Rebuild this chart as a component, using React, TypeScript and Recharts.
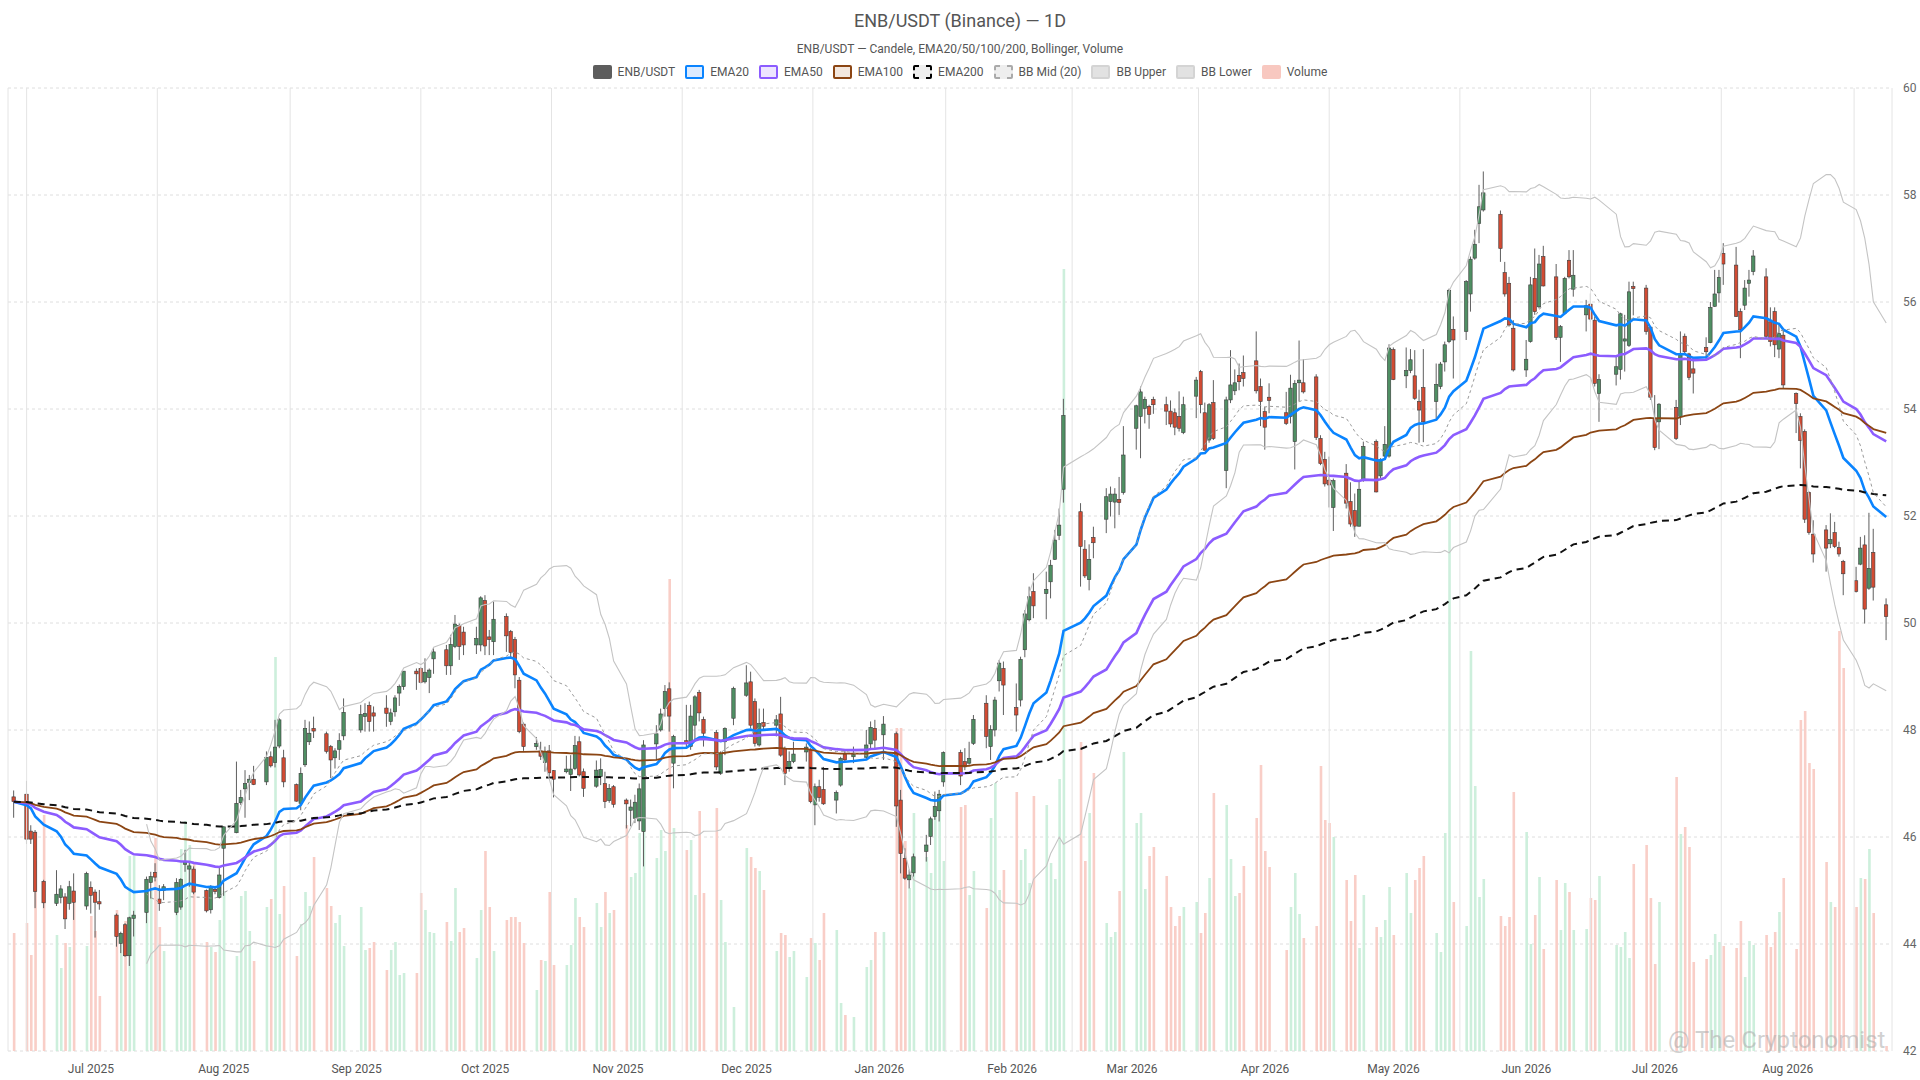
import {
  Bar,
  CartesianGrid,
  ComposedChart,
  Line,
  ReferenceLine,
  XAxis,
  YAxis,
} from "recharts";

// ---------------------------------------------------------------------------
// Data — daily bars, NYSE calendar (weekdays minus market holidays)
// ---------------------------------------------------------------------------

const FIRST_DAY = "2025-06-13";
const LAST_DAY = "2026-08-24";
const HOLIDAYS = [
  "2025-06-19", "2025-07-04", "2025-09-01", "2025-11-27", "2025-12-25",
  "2026-01-01", "2026-01-19", "2026-02-16", "2026-04-03", "2026-05-25",
  "2026-06-19", "2026-07-03",
];

const OPEN = [
  46.75,
  46.8, 46.11, 46.09, 45.17,
  44.76, 44.87, 44.88, 44.76, 44.99,
  44.71, 45.06, 44.97, 44.79,
  44.54, 44.01, 44.36, 43.78, 44.48,
  44.59, 45.15, 45.34, 44.84, 45.0,
  44.59, 44.69, 45.49, 45.4, 45.4,
  45.0, 44.64, 45.02, 44.87, 45.79,
  46.08, 46.64, 46.9, 47.02, 47.08,
  47.03, 47.5, 47.39, 47.7, 47.48,
  46.98, 46.63, 47.35, 47.78, 48.03,
  47.93, 47.69, 47.48, 47.64, 47.89,
  48.0, 48.25, 48.46, 48.32,
  48.41, 48.16, 48.34, 48.69, 48.81,
  49.1, 49.15, 48.9, 48.98, 49.33,
  49.5, 49.2, 49.56, 49.95, 49.83,
  49.59, 49.59, 50.42, 49.74, 49.65,
  50.12, 49.84, 49.69, 48.93, 48.11,
  47.69, 47.61, 47.39, 47.61, 47.24,
  47.22, 47.17, 47.28, 47.78, 47.22,
  46.95, 47.13, 47.0, 46.68, 46.94,
  46.69, 46.5, 46.35, 46.3, 46.1,
  47.74, 48.0, 48.4, 48.77, 47.38,
  47.8, 47.69, 48.09, 48.7, 48.2,
  47.95, 47.19, 47.78, 48.22,
  48.65, 48.9, 48.53, 47.72, 48.14,
  48.09, 48.3, 47.66, 47.28, 47.41,
  47.59, 47.63, 46.6, 46.94, 46.89,
  46.69, 46.97, 47.55, 47.5,
  47.49, 47.74, 48.03, 47.91,
  47.93, 46.69, 45.6, 45.2, 45.33,
  45.73, 46.01, 46.38, 46.49, 47.03,
  47.58, 47.41, 47.38, 47.75,
  48.5, 47.69, 48.0, 48.92, 49.15,
  48.42, 48.56, 49.5, 50.06, 50.59,
  50.55, 50.77, 51.19, 51.64, 52.5,
  52.08, 51.38, 50.81, 51.6,
  51.94, 52.27, 52.26, 52.31, 52.44,
  53.64, 53.86, 54.01, 54.05, 54.18,
  54.08, 53.96, 53.93, 53.86, 53.56,
  54.24, 54.7, 53.93, 53.42, 54.12,
  52.85, 54.17, 54.34, 54.63, 54.68,
  54.9, 54.42, 53.95, 54.22,
  53.93, 53.86, 53.39, 54.49, 54.49,
  54.6, 53.45, 53.06, 52.67, 52.16,
  52.8, 52.27, 52.1, 51.81, 52.67,
  53.39, 52.75, 53.12, 53.12, 55.11,
  54.62, 54.72, 54.62, 54.14, 54.4,
  54.14, 54.42, 54.88, 55.26, 55.49,
  55.45, 56.15, 56.82, 57.47, 57.72,
  57.64, 56.55, 56.35, 55.51,
  54.73, 55.26, 56.44, 55.91, 56.85,
  56.47, 55.34, 55.79, 56.78, 56.24,
  55.76, 55.96, 55.66, 54.29,
  54.65, 54.74, 55.27, 55.19, 56.29,
  56.26, 55.53, 53.83, 53.76,
  54.03, 53.86, 55.36, 55.03, 54.75,
  55.15, 55.24, 55.92, 56.17, 56.91,
  56.69, 55.82, 55.94, 56.35, 56.57,
  56.47, 55.63, 55.82, 55.12, 55.38,
  54.29, 53.86, 53.58, 52.44, 51.66,
  51.74, 51.48, 51.69, 51.41, 51.15,
  50.79, 51.1, 51.46, 50.65, 51.32,
  50.34,
];

const HIGH = [
  46.87,
  47.05, 46.22, 46.13, 45.2,
  45.38, 45.1, 44.95, 45.18, 45.32,
  45.35, 45.17, 45.02, 45.01,
  44.57, 44.23, 44.39, 44.51, 44.62,
  45.26, 45.35, 45.51, 45.1, 45.12,
  45.23, 45.23, 45.76, 45.54, 45.45,
  45.02, 45.1, 45.06, 45.45, 46.2,
  47.41, 46.88, 47.25, 47.16, 47.33,
  47.6, 47.6, 48.19, 48.22, 47.63,
  47.0, 47.3, 48.19, 48.16, 48.25,
  47.97, 47.72, 47.66, 47.94, 48.59,
  48.47, 48.5, 48.53, 48.44,
  48.65, 48.4, 48.65, 48.85, 49.1,
  49.15, 49.18, 49.34, 49.15, 49.53,
  49.59, 49.78, 50.15, 49.99, 49.93,
  49.93, 50.5, 50.52, 49.87, 50.4,
  50.18, 49.87, 49.74, 48.99, 48.14,
  47.87, 47.78, 47.69, 47.72, 47.25,
  47.52, 47.53, 47.89, 47.88, 47.28,
  47.43, 47.47, 47.22, 46.99, 46.97,
  46.72, 46.7, 46.79, 47.0, 47.81,
  48.09, 48.4, 48.84, 48.89, 47.91,
  48.47, 48.47, 48.65, 48.75, 48.25,
  48.0, 47.6, 48.05, 48.81,
  49.21, 49.09, 48.59, 48.4, 48.4,
  48.28, 48.62, 47.69, 47.6, 47.78,
  47.75, 47.66, 47.0, 47.07, 47.31,
  46.87, 47.5, 47.63, 47.69,
  48.0, 48.16, 48.19, 48.26,
  47.97, 46.88, 45.79, 45.39, 45.69,
  46.04, 46.38, 46.85, 46.88, 47.6,
  47.63, 47.66, 47.78, 48.28,
  48.65, 48.09, 48.62, 49.31, 49.28,
  48.87, 49.37, 50.24, 50.68, 50.93,
  50.96, 51.18, 51.74, 52.14, 54.19,
  52.24, 51.55, 51.47, 51.8,
  52.52, 52.55, 52.52, 52.73, 53.68,
  54.08, 54.42, 54.23, 54.08, 54.23,
  54.23, 54.16, 54.01, 54.33, 54.23,
  54.6, 54.73, 54.12, 54.11, 54.54,
  54.23, 55.1, 54.74, 54.85, 55.0,
  55.45, 54.57, 54.04, 54.48,
  54.32, 54.64, 54.54, 55.28, 54.93,
  54.65, 53.51, 53.2, 53.11, 52.7,
  52.97, 52.63, 52.42, 52.64, 53.39,
  53.43, 53.08, 53.68, 55.21, 55.15,
  55.15, 55.12, 55.1, 54.36, 55.12,
  54.85, 54.88, 55.26, 56.25, 55.73,
  56.41, 56.85, 57.35, 58.19, 58.44,
  57.71, 56.75, 56.47, 55.66,
  55.29, 56.47, 57.0, 56.88, 57.05,
  56.71, 55.57, 56.47, 56.97, 56.97,
  56.04, 56.16, 55.73, 54.65,
  54.98, 55.8, 55.76, 56.38, 56.38,
  56.32, 55.55, 54.26, 54.11,
  54.17, 55.45, 55.41, 55.05, 54.92,
  55.34, 56.0, 56.6, 56.6, 57.1,
  57.03, 55.88, 56.41, 56.6, 56.97,
  56.63, 55.9, 55.9, 55.6, 55.51,
  54.31, 53.92, 53.62, 52.46, 51.92,
  51.83, 52.05, 51.89, 51.52, 51.18,
  51.05, 51.61, 51.64, 52.06, 51.76,
  50.46,
];

const LOW = [
  46.36,
  45.87, 45.87, 44.67, 44.67,
  44.71, 44.76, 44.28, 44.64, 44.45,
  44.64, 44.57, 44.12, 44.64,
  43.95, 43.83, 43.76, 43.59, 44.14,
  44.39, 44.85, 45.17, 44.62, 44.82,
  44.54, 44.64, 45.35, 45.07, 44.93,
  44.59, 44.57, 44.93, 44.85, 44.9,
  46.07, 46.6, 46.36, 46.69, 46.97,
  46.97, 47.3, 47.3, 47.66, 46.93,
  46.66, 46.5, 47.31, 47.72, 47.85,
  47.56, 47.1, 47.28, 47.44, 47.81,
  47.95, 47.97, 47.97, 47.97,
  48.06, 48.09, 48.25, 48.45, 48.75,
  48.75, 48.87, 48.87, 48.69, 49.05,
  49.03, 49.03, 49.53, 49.31, 49.4,
  49.42, 49.47, 49.4, 49.4, 49.4,
  49.46, 49.34, 48.78, 47.94, 47.61,
  47.63, 47.44, 47.22, 47.13, 46.74,
  47.19, 46.86, 47.25, 47.13, 46.75,
  46.92, 46.97, 46.54, 46.64, 46.55,
  46.16, 46.2, 46.26, 46.13, 45.45,
  47.44, 47.97, 48.25, 47.97, 46.91,
  47.66, 47.63, 47.81, 48.16, 47.69,
  47.25, 47.16, 47.53, 48.09,
  48.62, 48.03, 47.69, 47.69, 48.0,
  47.88, 47.5, 46.97, 47.22, 47.38,
  47.41, 46.63, 46.22, 46.66, 46.6,
  46.44, 46.94, 47.41, 47.38,
  47.44, 47.63, 47.63, 47.44,
  46.19, 45.32, 45.2, 45.04, 45.26,
  45.54, 45.85, 46.32, 46.29, 46.94,
  46.97, 47.25, 47.35, 47.72,
  47.66, 47.44, 47.88, 48.72, 48.28,
  47.97, 48.44, 49.36, 50.03, 50.09,
  50.07, 50.46, 51.18, 51.55, 52.25,
  50.68, 50.84, 50.61, 51.21,
  51.68, 51.99, 51.77, 52.02, 52.4,
  53.24, 53.08, 53.73, 53.63, 53.91,
  53.7, 53.66, 53.51, 53.58, 53.53,
  53.83, 53.92, 53.22, 53.37, 53.42,
  52.52, 54.11, 54.26, 54.35, 54.42,
  54.29, 53.68, 53.24, 53.92,
  53.7, 53.73, 52.87, 54.14, 54.29,
  53.42, 52.95, 52.55, 52.16, 51.72,
  52.14, 51.8, 51.61, 51.8, 52.64,
  52.44, 52.71, 53.09, 53.09, 54.54,
  54.39, 54.67, 54.17, 53.37, 53.38,
  53.82, 54.37, 54.7, 55.23, 54.57,
  55.29, 55.82, 56.79, 57.1, 57.69,
  56.75, 56.1, 55.54, 54.7,
  54.6, 55.24, 55.76, 55.88, 56.29,
  55.29, 54.88, 55.76, 56.44, 56.1,
  55.45, 55.63, 54.42, 53.76,
  54.44, 54.55, 54.7, 55.16, 55.75,
  55.39, 54.17, 53.23, 53.25,
  53.42, 53.7, 55.04, 54.54, 54.29,
  54.92, 55.23, 55.91, 55.99, 56.32,
  55.72, 54.95, 55.85, 56.1, 56.5,
  55.32, 55.17, 54.97, 54.95, 54.39,
  53.55, 52.89, 51.87, 51.65, 51.13,
  50.96, 51.4, 51.4, 51.24, 50.52,
  50.57, 51.08, 49.99, 50.62, 50.42,
  49.68,
];

const CLOSE = [
  46.66,
  45.96, 45.96, 44.98, 44.77,
  44.93, 45.03, 44.47, 45.07, 44.78,
  45.32, 44.91, 44.78, 44.75,
  44.14, 44.2, 43.78, 44.49, 44.54,
  45.21, 45.26, 45.25, 44.76, 45.07,
  45.15, 45.21, 45.53, 45.46, 44.97,
  44.62, 45.07, 44.98, 45.29, 46.19,
  46.63, 46.74, 47.0, 47.08, 46.98,
  47.49, 47.33, 47.68, 48.19, 47.03,
  46.67, 47.19, 48.03, 47.94, 47.98,
  47.6, 47.44, 47.61, 47.8, 48.33,
  48.29, 48.31, 48.16, 48.26,
  48.31, 48.32, 48.6, 48.81, 49.1,
  49.05, 48.89, 49.08, 49.12, 49.46,
  49.2, 49.6, 49.98, 49.56, 49.59,
  49.71, 50.47, 49.57, 49.69, 50.07,
  49.76, 49.45, 49.03, 47.97, 47.69,
  47.75, 47.51, 47.6, 47.2, 47.08,
  47.27, 47.27, 47.71, 47.16, 46.91,
  47.25, 47.26, 46.66, 46.91, 46.61,
  46.62, 46.56, 46.65, 46.9, 47.72,
  47.93, 48.3, 48.72, 48.26, 47.88,
  47.75, 48.26, 48.62, 48.32, 47.94,
  47.31, 47.56, 48.03, 48.78,
  48.88, 48.09, 47.75, 48.12, 48.07,
  48.19, 47.53, 47.19, 47.41, 47.55,
  47.68, 46.66, 46.94, 46.74, 46.62,
  46.83, 47.47, 47.44, 47.54,
  47.72, 48.05, 47.81, 48.11,
  46.58, 45.69, 45.23, 45.29, 45.63,
  45.85, 46.34, 46.57, 46.8, 47.58,
  47.14, 47.31, 47.47, 48.2,
  47.88, 48.01, 48.56, 49.25, 48.84,
  48.28, 49.32, 50.17, 50.49, 50.32,
  50.63, 51.08, 51.55, 51.83, 53.88,
  51.43, 50.88, 51.19, 51.5,
  52.36, 52.41, 52.41, 52.25, 53.14,
  54.06, 54.32, 54.18, 53.9, 54.08,
  53.96, 53.72, 53.66, 53.64, 54.08,
  54.54, 54.08, 53.23, 54.08, 53.45,
  54.17, 54.45, 54.49, 54.51, 54.57,
  54.34, 54.14, 53.66, 54.16,
  53.73, 54.39, 54.48, 54.54, 54.32,
  53.47, 52.98, 52.6, 52.58, 52.66,
  52.24, 51.85, 51.81, 52.5, 53.3,
  52.45, 53.05, 53.34, 55.14, 54.55,
  54.72, 54.92, 54.2, 53.98, 53.76,
  54.46, 54.84, 55.2, 56.22, 55.29,
  56.38, 56.8, 57.08, 57.78, 58.04,
  57.0, 56.15, 55.57, 54.73,
  54.93, 56.32, 55.82, 56.71, 56.3,
  55.34, 55.54, 56.44, 56.47, 56.5,
  55.93, 55.68, 54.48, 54.55,
  54.79, 55.78, 55.31, 56.19, 56.25,
  55.45, 54.22, 53.28, 54.09,
  53.45, 55.01, 55.07, 54.59, 54.67,
  55.07, 55.9, 56.15, 56.46, 56.71,
  55.73, 55.48, 56.26, 56.41, 56.86,
  55.36, 55.26, 55.2, 55.41, 54.45,
  54.1, 53.41, 51.94, 51.69, 51.29,
  51.4, 51.56, 51.43, 51.29, 50.92,
  50.59, 51.4, 50.26, 51.02, 50.67,
  50.12,
];

// volume, millions of shares
const VOLUME = [
  1.18,
  1.28, 0.96, 1.9, 2.36,
  1.16, 0.83, 1.08, 1.04, 1.6,
  1.05, 1.35, 1.2, 0.55,
  1.41, 1.18, 1.3, 1.95, 1.95,
  1.4, 1.6, 2.13, 1.24, 1.0,
  1.4, 2.02, 2.3, 2.06, 1.87,
  1.09, 1.04, 0.99, 1.31, 1.6,
  0.95, 1.55, 1.6, 1.2, 0.9,
  1.44, 1.52, 3.94, 1.37, 1.65,
  0.95, 1.27, 1.59, 1.45, 1.94,
  1.63, 1.45, 1.28, 1.36, 1.05,
  1.44, 1.01, 1.03, 1.09,
  0.81, 1.01, 1.09, 0.76, 0.78,
  0.78, 1.58, 1.41, 1.19, 1.18,
  1.29, 1.1, 1.63, 1.19, 1.23,
  0.93, 1.41, 2.0, 1.44, 1.0,
  1.31, 1.34, 1.34, 1.29, 1.08,
  0.61, 0.91, 0.9, 1.59, 0.86,
  0.86, 1.06, 1.53, 1.34, 1.24,
  1.48, 1.24, 1.59, 1.38, 1.41,
  2.26, 1.74, 1.78, 2.18, 2.44,
  1.93, 2.21, 2.0, 4.72, 2.23,
  2.01, 2.11, 1.56, 2.4, 1.58,
  2.43, 1.51, 1.09, 0.44,
  2.03, 1.94, 1.83, 1.8, 1.61,
  1.0, 1.18, 1.16, 0.94, 1.0,
  0.74, 1.13, 1.08, 0.91, 1.38,
  1.21, 0.48, 0.36, 0.34,
  0.84, 0.91, 1.19, 1.19,
  3.23, 3.23, 2.1, 1.63, 2.38,
  1.94, 1.78, 2.38, 2.54, 1.9,
  2.44, 2.46, 1.56, 1.8,
  1.43, 2.33, 2.68, 1.61, 1.81,
  2.59, 1.91, 2.02, 1.68, 2.55,
  2.46, 1.88, 1.72, 2.72, 7.82,
  3.09, 1.9, 2.38, 2.78,
  1.28, 1.14, 1.19, 1.6, 2.99,
  2.28, 2.38, 1.62, 1.95, 2.04,
  1.75, 1.44, 1.25, 1.35, 1.44,
  1.49, 1.18, 1.38, 1.73, 2.58,
  2.46, 1.92, 1.55, 1.58, 1.85,
  2.33, 2.86, 2.0, 1.84,
  1.01, 1.44, 1.78, 1.37, 1.13,
  1.25, 2.85, 2.31, 2.28, 2.14,
  1.71, 1.3, 1.76, 1.03, 1.56,
  1.24, 1.14, 1.31, 1.64, 1.16,
  1.78, 1.38, 1.71, 1.83, 1.95,
  1.18, 0.99, 2.18, 5.37, 1.49,
  1.25, 4.0, 2.65, 1.54, 1.72,
  1.35, 1.25, 1.34, 2.59,
  2.19, 1.07, 1.36, 1.74, 1.02,
  1.71, 1.21, 1.68, 1.59, 1.21,
  1.22, 1.53, 1.51, 1.75,
  1.06, 1.04, 1.19, 0.93, 1.87,
  2.06, 1.53, 0.87, 1.49,
  2.74, 2.17, 2.24, 2.04, 0.89,
  0.92, 0.96, 1.17, 1.09, 1.05,
  1.03, 1.3, 0.74, 1.1, 1.06,
  1.16, 1.04, 1.19, 1.39, 1.73,
  1.02, 3.31, 3.4, 2.88, 2.82,
  1.89, 1.49, 1.44, 4.2, 3.83,
  1.44, 1.73, 1.72, 2.02, 1.38,
  0.05,
];

const PRICE_TICKS = [42, 44, 46, 48, 50, 52, 54, 56, 58, 60];
const MONTHS = ["Jan", "Feb", "Mar", "Apr", "May", "Jun", "Jul", "Aug", "Sep", "Oct", "Nov", "Dec"];

// ---------------------------------------------------------------------------
// Colours
// ---------------------------------------------------------------------------

const UP = "#4f8f63";
const DOWN = "#d24b33";
const VOL_UP = "#cdefdc";
const VOL_DOWN = "#f9cec7";
const EMA20_C = "#0a84ff";
const EMA50_C = "#8c5cff";
const EMA100_C = "#8b4513";
const FONT = "Roboto, 'Noto Sans', sans-serif";

// ---------------------------------------------------------------------------
// Helpers
// ---------------------------------------------------------------------------

const DAY = 86400000;
const toDay = (s: string) => Date.parse(s + "T00:00:00Z") / DAY;

function tradingDays(): number[] {
  const out: number[] = [];
  const hol = new Set(HOLIDAYS.map(toDay));
  for (let d = toDay(FIRST_DAY); d <= toDay(LAST_DAY); d++) {
    const wd = new Date(d * DAY).getUTCDay();
    if (wd === 0 || wd === 6 || hol.has(d)) continue;
    out.push(d);
  }
  return out;
}

function ema(src: number[], span: number): number[] {
  const a = 2 / (span + 1);
  const out: number[] = [];
  src.forEach((v, i) => out.push(i === 0 ? v : a * v + (1 - a) * out[i - 1]));
  return out;
}

function bollinger(src: number[], n: number, k: number) {
  return src.map((_, i) => {
    if (i < n - 1) return { mid: null, up: null, lo: null };
    const w = src.slice(i - n + 1, i + 1);
    const m = w.reduce((s, v) => s + v, 0) / n;
    const sd = Math.sqrt(w.reduce((s, v) => s + (v - m) ** 2, 0) / n);
    return { mid: m, up: m + k * sd, lo: m - k * sd };
  });
}

const DAYS = tradingDays();
const N = Math.min(DAYS.length, OPEN.length, HIGH.length, LOW.length, CLOSE.length, VOLUME.length);
const E20 = ema(CLOSE, 20);
const E50 = ema(CLOSE, 50);
const E100 = ema(CLOSE, 100);
const E200 = ema(CLOSE, 200);
const BB = bollinger(CLOSE, 20, 2);

const rows = Array.from({ length: N }, (_, i) => ({
  t: DAYS[i],
  o: OPEN[i],
  h: HIGH[i],
  l: LOW[i],
  c: CLOSE[i],
  v: VOLUME[i],
  up: CLOSE[i] >= OPEN[i],
  ema20: E20[i],
  ema50: E50[i],
  ema100: E100[i],
  ema200: E200[i],
  bbMid: BB[i].mid,
  bbUp: BB[i].up,
  bbLo: BB[i].lo,
}));

const X_DOMAIN = [DAYS[0] - 1.35, DAYS[N - 1] + 1.35];

// month starts (labels) and month mid-points (vertical split lines)
const monthTicks: number[] = [];
const monthMids: number[] = [];
for (let y = 2025, m = 5; y < 2026 || m <= 8; ) {
  const start = Date.UTC(y, m, 1) / DAY;
  const next = Date.UTC(m === 11 ? y + 1 : y, (m + 1) % 12, 1) / DAY;
  if (start >= X_DOMAIN[0] && start <= X_DOMAIN[1]) monthTicks.push(start);
  const mid = (start + next) / 2;
  if (mid >= X_DOMAIN[0] && mid <= X_DOMAIN[1]) monthMids.push(mid);
  m++;
  if (m === 12) { m = 0; y++; }
}

const fmtMonth = (t: number) => {
  const d = new Date(t * DAY);
  return `${MONTHS[d.getUTCMonth()]} ${d.getUTCFullYear()}`;
};

// ---------------------------------------------------------------------------
// Shapes
// ---------------------------------------------------------------------------

function Candle(props: any) {
  const { x, y, width, height, payload } = props;
  if (!payload || x == null || y == null) return null;
  const { o, h, l, c } = payload;
  const cx = x + width / 2;
  const k = h > l ? height / (h - l) : 0;
  const yO = y + (h - o) * k;
  const yC = y + (h - c) * k;
  const top = Math.min(yO, yC);
  const bh = Math.max(Math.abs(yC - yO), 1);
  const bw = 3.4;
  return (
    <g>
      <line x1={cx} x2={cx} y1={y} y2={y + height} stroke="#5f5f5f" strokeWidth={1} />
      <rect
        x={cx - bw / 2}
        y={top}
        width={bw}
        height={bh}
        fill={c >= o ? UP : DOWN}
        stroke="#3c3c3c"
        strokeWidth={0.6}
      />
    </g>
  );
}

function VolBar(props: any) {
  const { x, y, width, height, payload } = props;
  if (!payload || !height) return null;
  const bw = 2.6;
  return (
    <rect
      x={x + width / 2 - bw / 2}
      y={y}
      width={bw}
      height={height}
      fill={payload.up ? VOL_UP : VOL_DOWN}
    />
  );
}

// ---------------------------------------------------------------------------
// Legend
// ---------------------------------------------------------------------------

const LEGEND = [
  { name: "ENB/USDT", fill: "#5d5d5d", stroke: "#5d5d5d", dash: false },
  { name: "EMA20", fill: "#dcebff", stroke: EMA20_C, dash: false },
  { name: "EMA50", fill: "#ede5ff", stroke: EMA50_C, dash: false },
  { name: "EMA100", fill: "#f3e7de", stroke: EMA100_C, dash: false },
  { name: "EMA200", fill: "#eeeeee", stroke: "#000", dash: true },
  { name: "BB Mid (20)", fill: "#eeeeee", stroke: "#aaa", dash: true },
  { name: "BB Upper", fill: "#e2e2e2", stroke: "#d4d4d4", dash: false },
  { name: "BB Lower", fill: "#e2e2e2", stroke: "#d4d4d4", dash: false },
  { name: "Volume", fill: "#f8c8c0", stroke: "#f8c8c0", dash: false },
];

function LegendRow() {
  return (
    <div
      style={{
        position: "absolute",
        top: 65,
        left: 0,
        width: 1920,
        display: "flex",
        justifyContent: "center",
        gap: 10,
        fontSize: 12,
        color: "#555",
        fontFamily: FONT,
      }}
    >
      {LEGEND.map((it) => (
        <div key={it.name} style={{ display: "flex", alignItems: "center", gap: 6 }}>
          <span
            style={{
              display: "inline-block",
              width: 15,
              height: 10,
              borderRadius: 2,
              background: it.fill,
              border: `2px ${it.dash ? "dashed" : "solid"} ${it.stroke}`,
            }}
          />
          <span>{it.name}</span>
        </div>
      ))}
    </div>
  );
}

// ---------------------------------------------------------------------------
// App
// ---------------------------------------------------------------------------

export default function App() {
  return (
    <div
      style={{
        position: "absolute",
        left: 0,
        top: 0,
        width: 1920,
        height: 1080,
        background: "#fff",
        fontFamily: FONT,
        overflow: "hidden",
      }}
    >
      <div
        style={{
          position: "absolute",
          top: 10,
          width: 1920,
          textAlign: "center",
          fontSize: 18,
          color: "#555",
        }}
      >
        ENB/USDT (Binance) — 1D
      </div>
      <div
        style={{
          position: "absolute",
          top: 42,
          width: 1920,
          textAlign: "center",
          fontSize: 12,
          color: "#555",
        }}
      >
        ENB/USDT — Candele, EMA20/50/100/200, Bollinger, Volume
      </div>
      <LegendRow />

      <div style={{ position: "absolute", left: 0, top: 0 }}>
        <ComposedChart
          width={1920}
          height={1080}
          data={rows}
          margin={{ top: 88, right: 0, bottom: 0, left: 8 }}
        >
          <CartesianGrid
            yAxisId="p"
            vertical={false}
            stroke="#dedede"
            strokeDasharray="3 3"
          />
          <XAxis
            dataKey="t"
            type="number"
            domain={X_DOMAIN}
            allowDataOverflow
            ticks={monthTicks}
            tickFormatter={fmtMonth}
            axisLine={false}
            tickLine={false}
            tickMargin={7}
            height={29}
            tick={{ fontSize: 12, fill: "#555" }}
            interval={0}
          />
          <XAxis
            xAxisId="vx"
            dataKey="t"
            type="number"
            domain={X_DOMAIN}
            allowDataOverflow
            hide
          />
          <YAxis
            yAxisId="p"
            orientation="right"
            domain={[42, 60]}
            ticks={PRICE_TICKS}
            allowDataOverflow
            axisLine={false}
            tickLine={false}
            tickMargin={5}
            width={28}
            tick={{ fontSize: 12, fill: "#666" }}
            interval={0}
          />
          <YAxis yAxisId="vol" domain={[0, 9.63]} allowDataOverflow hide />

          {monthMids.map((m) => (
            <ReferenceLine key={m} yAxisId="p" x={m} stroke="#e4e4e4" strokeWidth={1} />
          ))}
          <ReferenceLine yAxisId="p" x={X_DOMAIN[0]} stroke="#e4e4e4" />
          <ReferenceLine yAxisId="p" x={X_DOMAIN[1]} stroke="#e4e4e4" />

          <Bar
            xAxisId="vx"
            yAxisId="vol"
            dataKey="v"
            barSize={3}
            shape={<VolBar />}
            isAnimationActive={false}
          />
          <Bar
            yAxisId="p"
            dataKey={(d: any) => [d.l, d.h]}
            barSize={4}
            shape={<Candle />}
            isAnimationActive={false}
          />

          <Line yAxisId="p" dataKey="ema20" stroke={EMA20_C} strokeWidth={2.6} dot={false} isAnimationActive={false} />
          <Line yAxisId="p" dataKey="ema50" stroke={EMA50_C} strokeWidth={2.6} dot={false} isAnimationActive={false} />
          <Line yAxisId="p" dataKey="ema100" stroke={EMA100_C} strokeWidth={1.8} dot={false} isAnimationActive={false} />
          <Line yAxisId="p" dataKey="ema200" stroke="#111" strokeWidth={2} strokeDasharray="7 5" dot={false} isAnimationActive={false} />
          <Line yAxisId="p" dataKey="bbMid" stroke="#9a9a9a" strokeWidth={1} strokeDasharray="3 3" dot={false} isAnimationActive={false} />
          <Line yAxisId="p" dataKey="bbUp" stroke="#c4c4c4" strokeWidth={1.1} dot={false} isAnimationActive={false} />
          <Line yAxisId="p" dataKey="bbLo" stroke="#c4c4c4" strokeWidth={1.1} dot={false} isAnimationActive={false} />
        </ComposedChart>
      </div>

      {/* watermark, kept clear of the axis labels */}
      <div
        style={{
          position: "absolute",
          left: 1668,
          top: 1027,
          fontSize: 24,
          lineHeight: "26px",
          color: "rgba(170,170,170,0.55)",
          whiteSpace: "nowrap",
        }}
      >
        @ The Cryptonomist
      </div>
    </div>
  );
}
